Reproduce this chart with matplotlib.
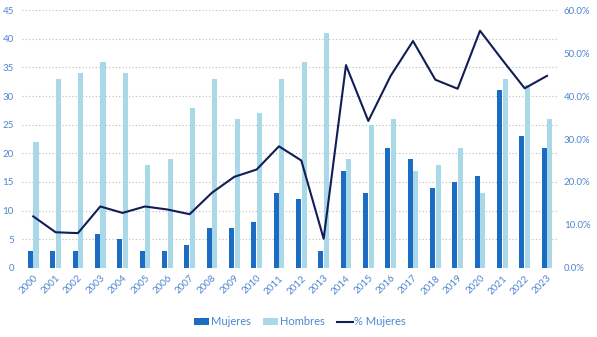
import matplotlib
matplotlib.use("Agg")
import matplotlib.pyplot as plt
import numpy as np
from matplotlib.ticker import FuncFormatter

years = [str(y) for y in range(2000, 2024)]
mujeres = [3, 3, 3, 6, 5, 3, 3, 4, 7, 7, 8, 13, 12, 3, 17, 13, 21, 19, 14, 15, 16, 31, 23, 21]
hombres = [22, 33, 34, 36, 34, 18, 19, 28, 33, 26, 27, 33, 36, 41, 19, 25, 26, 17, 18, 21, 13, 33, 32, 26]
pct_mujeres = [12.0, 8.3, 8.1, 14.3, 12.8, 14.3, 13.6, 12.5, 17.5, 21.2, 22.9, 28.3, 25.0, 6.8,
               47.2, 34.2, 44.7, 52.8, 43.8, 41.7, 55.2, 48.4, 41.8, 44.7]

c_muj = '#1b6cc2'
c_hom = '#a9d8e8'
c_line = '#111d55'
c_tick = '#4f86d0'

plt.rcParams['font.family'] = ['Lato', 'DejaVu Sans']

fig = plt.figure(figsize=(5.97, 3.37), dpi=100)
ax = fig.add_axes([0.037, 0.205, 0.898, 0.765])
ax2 = ax.twinx()

x = np.arange(len(years))
w = 0.23
ax.bar(x - 0.125, mujeres, w, color=c_muj, label='Mujeres', zorder=2)
ax.bar(x + 0.125, hombres, w, color=c_hom, label='Hombres', zorder=2)
ax2.plot(x, pct_mujeres, color=c_line, lw=1.5, label='% Mujeres')

ax.set_xlim(-0.5, len(years) - 0.5)
ax.set_ylim(0, 45)
ax.set_yticks(range(0, 46, 5))
ax2.set_ylim(0, 60)
ax2.set_yticks(range(0, 61, 10))
ax2.yaxis.set_major_formatter(FuncFormatter(lambda v, p: f'{v:.1f}%'))

ax.grid(axis='y', color='#bcbcbc', linestyle=(0, (1, 2)), linewidth=0.8, zorder=0)
ax.set_axisbelow(True)

ax.set_xticks(x)
ax.set_xticklabels(years, rotation=45, ha='right', rotation_mode='anchor')

for a in (ax, ax2):
    for s in a.spines.values():
        s.set_visible(False)
    a.tick_params(length=0, colors=c_tick, labelsize=7)
ax.tick_params(axis='y', pad=6)
ax.tick_params(axis='x', pad=4)
ax2.tick_params(axis='y', pad=4)

h1, l1 = ax.get_legend_handles_labels()
h2, l2 = ax2.get_legend_handles_labels()
leg = fig.legend(h1 + h2, l1 + l2, loc='center', bbox_to_anchor=(0.502, 0.045), ncol=3,
                 frameon=False, fontsize=8, handlelength=1.4, handleheight=0.5,
                 handletextpad=0.15, columnspacing=1.1)
for t in leg.get_texts():
    t.set_color(c_tick)

fig.savefig('out.png', dpi=100)
